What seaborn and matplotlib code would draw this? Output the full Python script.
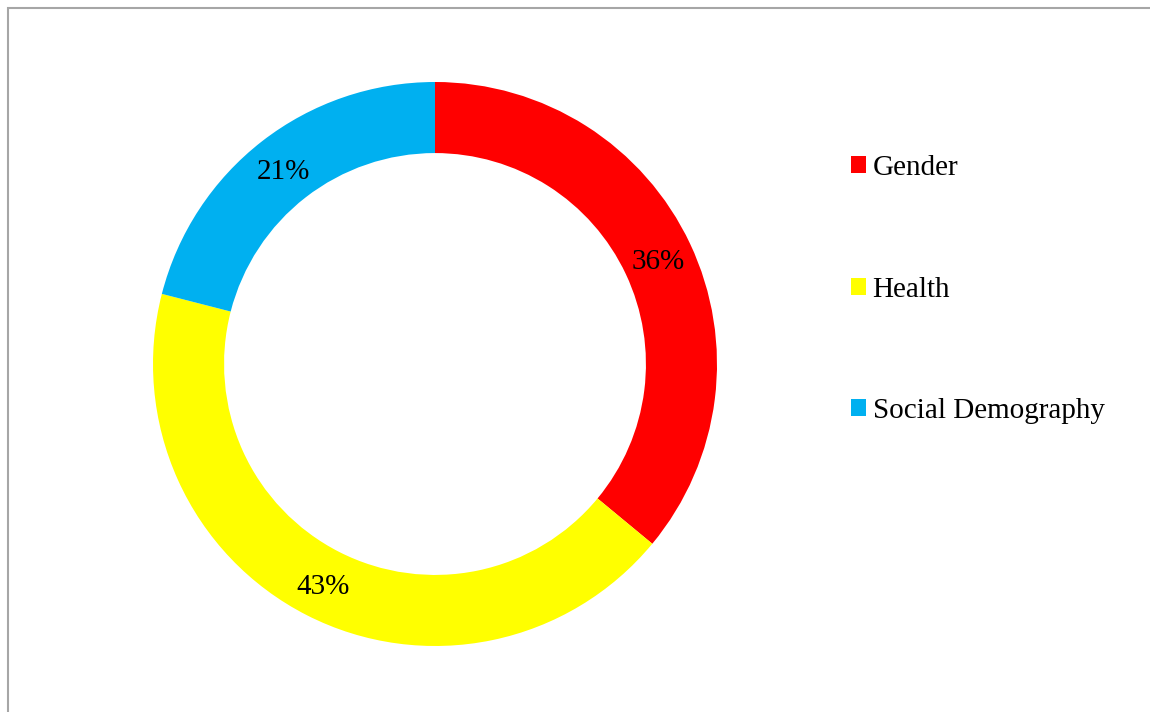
import matplotlib
matplotlib.use("Agg")
import matplotlib.pyplot as plt
from matplotlib.patches import Rectangle, Patch
from matplotlib.transforms import offset_copy
import seaborn as sns

categories = ["Gender", "Health", "Social Demography"]
values = [36, 43, 21]
colors = ["#FF0000", "#FFFF00", "#00B0F0"]

sns.set_theme(style="white")
plt.rcParams['font.family'] = ['Liberation Serif', 'DejaVu Serif']

W, H = 1150, 712
fig = plt.figure(figsize=(W / 100, H / 100), dpi=100)
fig.patch.set_facecolor("white")

# outer gray frame (left/top visible)
fig.add_artist(Rectangle((7.5 / W, -0.05), 1.2, (H - 7.5) / H + 0.05,
                         transform=fig.transFigure, fill=False,
                         edgecolor="#A6A6A6", linewidth=1.5))

cx, cy, R = 435, 364, 282
ax = fig.add_axes([(cx - R) / W, (H - cy - R) / H, 2 * R / W, 2 * R / H])
wedges, texts, autotexts = ax.pie(
    values, colors=colors, startangle=90, counterclock=False, radius=1,
    autopct=lambda p: f"{p:.0f}%", pctdistance=0.875,
    wedgeprops=dict(width=0.252, linewidth=0),
    textprops=dict(fontsize=21, color="black"))
for t in autotexts:
    t.set_transform(offset_copy(ax.transData, fig=fig, x=0, y=-3, units="dots"))
ax.set_xlim(-1, 1)
ax.set_ylim(-1, 1)
ax.set_aspect("equal")
ax.axis("off")

handles = [Patch(facecolor=c, edgecolor="none") for c in colors]
fig.legend(handles, categories, loc="upper left",
           bbox_to_anchor=(851 / W, 1 - 155 / H), frameon=False,
           fontsize=21, labelcolor="black", handlelength=0.52, handleheight=0.52,
           handletextpad=0.22, labelspacing=3.28, borderpad=0, borderaxespad=0)

fig.savefig("out.png", dpi=100, facecolor="white")
